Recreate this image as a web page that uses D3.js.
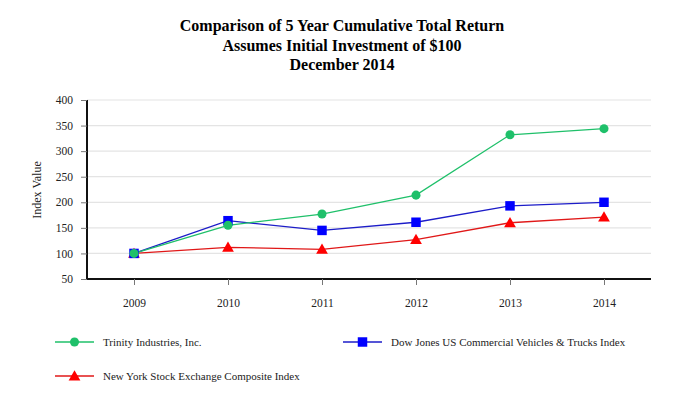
<!DOCTYPE html>
<html>
<head>
<meta charset="utf-8">
<script src="https://cdn.jsdelivr.net/npm/d3@7"></script>
<style>
  body { margin: 0; background: #fff; }
  svg { display: block; }
  svg text { font-family: "Liberation Serif", "Times New Roman", serif !important; }
</style>
</head>
<body>
<svg class="vis" width="684" height="410"></svg>
<script>
const years = ["2009", "2010", "2011", "2012", "2013", "2014"];
const yTicks = [50, 100, 150, 200, 250, 300, 350, 400];
const trinity = [100, 155, 177, 214, 332, 344];
const dowJones = [100, 164, 145, 161, 193, 200];
const nyse = [100, 112, 108, 127, 160, 171];
const titleLines = [
    "Comparison of 5 Year Cumulative Total Return",
    "Assumes Initial Investment of $100",
    "December 2014"
];

const series = [
    { name: "Trinity Industries, Inc.", values: trinity, color: "#1fc06a", line: "#1fc06a", shape: "circle" },
    { name: "Dow Jones US Commercial Vehicles & Trucks Index", values: dowJones, color: "#0000ff", line: "#1c1cc8", shape: "square" },
    { name: "New York Stock Exchange Composite Index", values: nyse, color: "#ff0000", line: "#e01818", shape: "triangle" }
];

const svg = d3.select("svg.vis");
const m = { left: 87, right: 651, top: 100, bottom: 279 };

// title
svg.append("g").selectAll("text")
    .data(titleLines)
    .join("text")
    .attr("x", 342)
    .attr("y", (d, i) => 31 + i * 19.5)
    .attr("text-anchor", "middle")
    .attr("font-size", 16)
    .attr("font-weight", "bold")
    .text(d => d);

const x = d3.scalePoint().domain(years).range([m.left, m.right]).padding(0.5);
const y = d3.scaleLinear().domain([50, 400]).range([m.bottom, m.top]);

// grid
svg.append("g").selectAll("line")
    .data(yTicks.filter(t => t > 50))
    .join("line")
    .attr("x1", m.left).attr("x2", m.right)
    .attr("y1", d => y(d)).attr("y2", d => y(d))
    .attr("stroke", "#e4e4e4")
    .attr("stroke-width", 1.2);

// y axis
const yAxis = svg.append("g")
    .attr("transform", `translate(${m.left},0)`)
    .call(d3.axisLeft(y).tickValues(yTicks).tickSize(6).tickPadding(8));
yAxis.select(".domain").attr("stroke", "#111").attr("stroke-width", 2).attr("d", `M0,${m.top}V${m.bottom}`);
yAxis.selectAll(".tick line").attr("stroke", "#777");
yAxis.selectAll("text").attr("font-size", 11.5).attr("fill", "#222");

// x axis
const xAxis = svg.append("g")
    .attr("transform", `translate(0,${m.bottom})`)
    .call(d3.axisBottom(x).tickSize(6).tickPadding(14));
xAxis.select(".domain").attr("stroke", "#111").attr("stroke-width", 2).attr("d", `M${m.left},0H${m.right}`);
xAxis.selectAll(".tick line").attr("stroke", "#777");
xAxis.selectAll("text").attr("font-size", 11.5).attr("fill", "#222");

// y label
svg.append("text")
    .attr("transform", "translate(41,190) rotate(-90)")
    .attr("text-anchor", "middle")
    .attr("font-size", 12)
    .attr("fill", "#222")
    .text("Index Value");

const symbolOf = {
    circle: d3.symbol().type(d3.symbolCircle).size(64),
    square: d3.symbol().type(d3.symbolSquare).size(90),
    triangle: d3.symbol().type(d3.symbolTriangle).size(60)
};

const line = d3.line().x((d, i) => x(years[i])).y(d => y(d));

series.slice().reverse().forEach(s => {
    svg.append("path")
        .attr("d", line(s.values))
        .attr("fill", "none")
        .attr("stroke", s.line)
        .attr("stroke-width", 1.3);
});
series.slice().reverse().forEach(s => {
    svg.append("g").selectAll("path")
        .data(s.values)
        .join("path")
        .attr("transform", (d, i) => `translate(${x(years[i])},${y(d) + (s.shape === "triangle" ? 1 : 0)})`)
        .attr("d", symbolOf[s.shape]())
        .attr("fill", s.color);
});

// legend
const legendPos = [[55, 342], [343, 342], [55, 376]];
series.forEach((s, i) => {
    const [lx, ly] = legendPos[i];
    const g = svg.append("g").attr("transform", `translate(${lx},${ly})`);
    g.append("line").attr("x1", 0).attr("x2", 39).attr("y1", 0).attr("y2", 0)
        .attr("stroke", s.line).attr("stroke-width", 1.4);
    g.append("path").attr("transform", `translate(19.5,${s.shape === "triangle" ? 1 : 0})`)
        .attr("d", symbolOf[s.shape]()).attr("fill", s.color);
    g.append("text").attr("x", 48).attr("y", 4)
        .attr("font-size", 11).attr("fill", "#222")
        .text(s.name);
});
</script>
</body>
</html>
